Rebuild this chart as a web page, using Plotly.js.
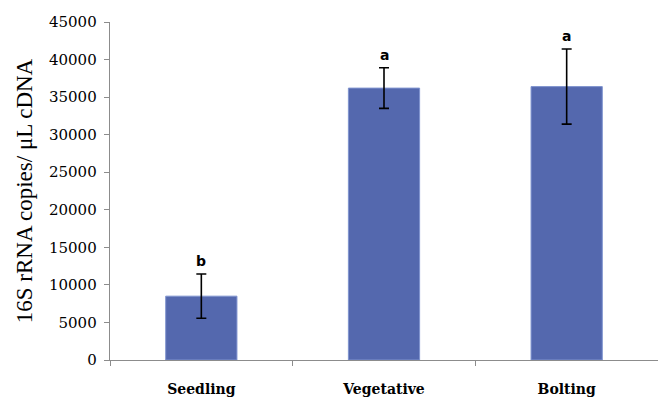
<!DOCTYPE html>
<html><head><meta charset="utf-8">
<script src="https://cdn.plot.ly/plotly-3.0.1.min.js"></script>
<style>html,body{margin:0;padding:0;background:#fff}#chart{width:658px;height:397px}</style>
</head><body><div id="chart"></div>
<script>
var categories = ["Seedling", "Vegetative", "Bolting"];
var values = [8500, 36200, 36400];
var errors = [2950, 2700, 5000];
var letters = ["b", "a", "a"];

var trace = {
  type: "bar", x: categories, y: values, width: 0.39,
  marker: {color: "#5468AE", line: {color: "#7F93CF", width: 1}},
  error_y: {type: "data", array: errors, visible: true, color: "#000", thickness: 1.6, width: 5},
  hoverinfo: "skip"
};
var annotations = categories.map(function(c, i){
  return {x: c, y: values[i] + errors[i], text: letters[i], showarrow: false,
    yanchor: "bottom", yshift: 3, font: {family: "DejaVu Sans, Liberation Sans", size: 14, color: "#000", weight: "bold"}};
});
var layout = {
  width: 658, height: 397,
  margin: {l: 110, r: 0, t: 22, b: 37},
  paper_bgcolor: "#fff", plot_bgcolor: "#fff",
  showlegend: false,
  xaxis: {range: [-0.5, 2.5], showline: true, linecolor: "#8c8c8c", linewidth: 1.3,
    ticks: "outside", tickson: "boundaries", ticklen: 5, tickcolor: "#8c8c8c",
    tickfont: {family: "DejaVu Serif, Liberation Serif", size: 14, color: "#000", weight: "bold"},
    ticklabelstandoff: 16, showgrid: false, zeroline: false},
  yaxis: {range: [0, 45000], dtick: 5000, tickformat: "d", showline: true, linecolor: "#8c8c8c", linewidth: 1.3,
    ticks: "outside", ticklen: 5, tickcolor: "#8c8c8c", showgrid: false, zeroline: false,
    tickfont: {family: "DejaVu Serif, Liberation Serif", size: 15, color: "#000"},
    ticklabelstandoff: 4,
    title: {text: "16S rRNA copies/ μL cDNA", standoff: 10,
      font: {family: "Liberation Serif, Times New Roman", size: 23, color: "#000"}}},
  annotations: annotations
};
Plotly.newPlot("chart", [trace], layout, {displayModeBar: false, staticPlot: true});
</script></body></html>
